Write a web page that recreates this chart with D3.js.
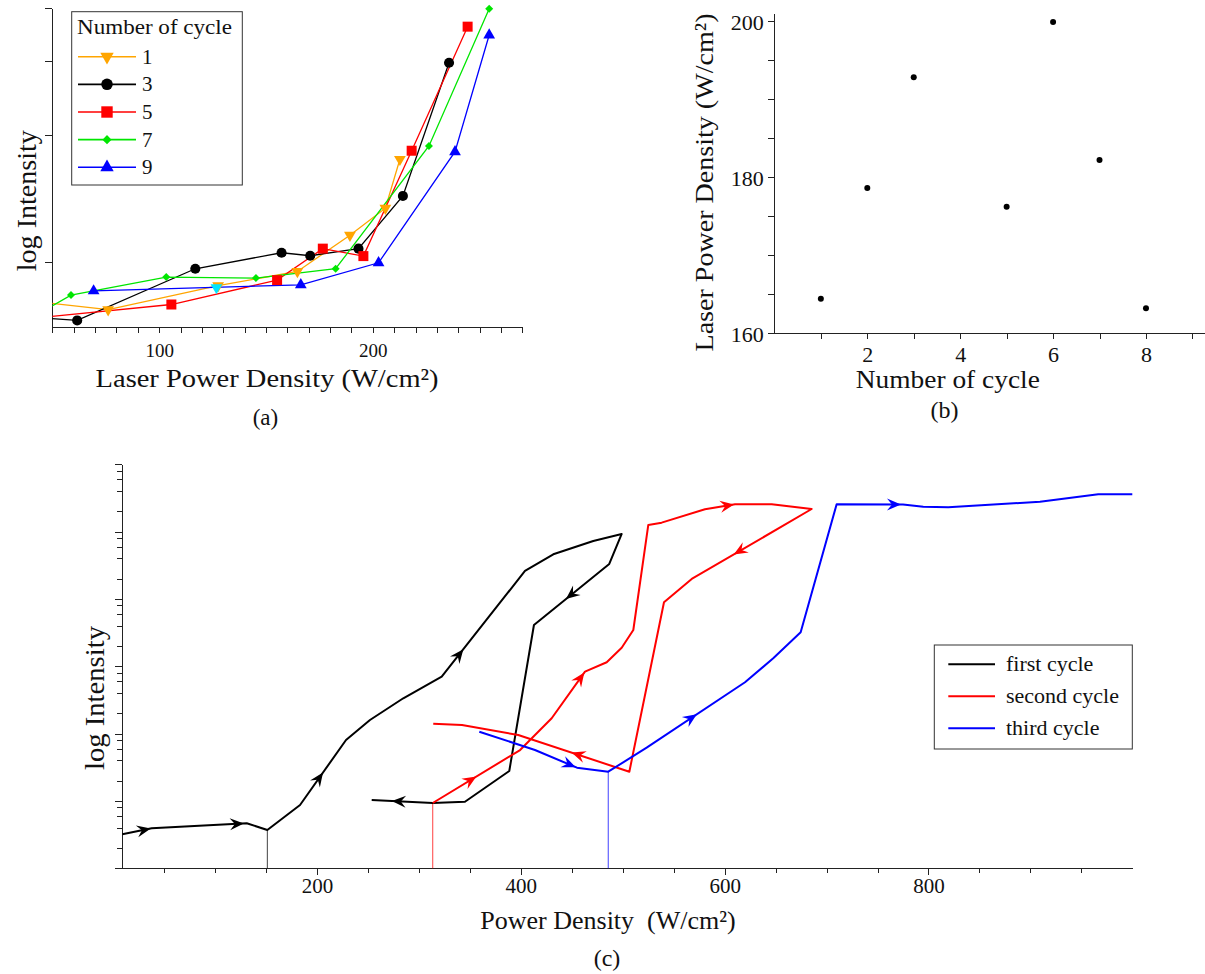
<!DOCTYPE html>
<html>
<head>
<meta charset="utf-8">
<script src="https://cdn.jsdelivr.net/npm/d3@7"></script>
<style>
  body { margin: 0; background: #fff; }
  svg text { font-family: "Liberation Serif", "Times New Roman", serif; fill: #111; }
  .axis path, .axis line { stroke: #222; shape-rendering: crispEdges; }
</style>
</head>
<body>
<div id="chart"></div>
<script>
// ---------- (a) log intensity vs laser power density, per cycle ----------
const cyclesA = ["1", "3", "5", "7", "9"];
const powerA1 = [45, 76.1, 127.6, 164.7, 189.3, 205.9, 212.7];
const intensA1 = [802, 770, 878, 949, 1157, 1341, 1752];
const powerA3 = [45, 61.6, 116.9, 157.3, 170.7, 193.3, 214.1, 235.7];
const intensA3 = [736, 726, 963, 1051, 1034, 1075, 1434, 2971];
const powerA5 = [45, 105.7, 155.2, 176.6, 195.6, 218.2, 244.4];
const intensA5 = [738, 792, 905, 1075, 1032, 1836, 3618];
const powerA7 = [45, 58.7, 103.3, 145.3, 182.6, 226.3, 254.5];
const intensA7 = [760, 834, 920, 915, 963, 1884, 3990];
const powerA9 = [69.3, 166.3, 202.7, 238.5, 254.5];
const intensA9 = [853, 882, 995, 1826, 3457];
// odd cyan marker sitting on the cycle-1 curve
const strayA = [[126.8, 869]];

// ---------- (b) threshold power per cycle ----------
const cycleB = [1, 2, 3, 5, 6, 7, 8];
const powerB = [164.4, 178.6, 192.8, 176.2, 199.9, 182.2, 163.2];

// ---------- (c) hysteresis loops ----------
const cyclesC = ["first cycle", "second cycle", "third cycle"];
const firstP = [9, 37.8, 131.1, 151.3, 183.4, 228.5, 252, 284.7, 322.4, 404.1, 431.9, 471.1, 499, 486.8, 412.9, 388.7, 345.2, 313.6, 253.7];
const firstI = [3.2, 3.93, 4.66, 3.71, 8.71, 80.5, 159.5, 335, 701, 26050, 46100, 72600, 92300, 33100, 4110, 27.9, 9.75, 9.33, 10.3];
const secondP = [313.6, 399.3, 430.3, 463, 484.3, 499, 510.4, 525.1, 538.2, 580.7, 610.2, 646.2, 685.4, 567.7, 540.5, 506.5, 397.5, 342.3, 314.1];
const secondI = [9.33, 57.1, 169, 832, 1148, 1890, 3460, 125600, 135900, 214800, 254800, 254800, 216900, 19810, 8930, 27.2, 95.5, 134, 140.5];
const thirdP = [359.3, 413.9, 455.1, 485.8, 523.5, 620, 647.7, 674.6, 709.9, 775, 794.9, 819.4, 909.4, 966.6, 1000];
const thirdI = [106.9, 57.1, 31.2, 27.2, 61.8, 579, 1315, 3200, 254800, 252300, 234900, 230000, 278600, 358900, 358900];
// arrows: [segment index, position along segment]
const firstArrows = [[0, 0.97], [1, 0.97], [4, 0.5], [8, 0.26], [13, 0.575], [17, 0.67]];
const secondArrows = [[0, 0.5], [2, 0.98], [9, 0.97], [12, 0.65], [15, 0.52]];
const thirdArrows = [[1, 0.97], [4, 0.51], [8, 0.97]];
const dropIdx = [3, 0, 3];

const svg = d3.select("#chart").append("svg")
    .attr("width", 1205).attr("height", 974)
    .style("background", "#fff");

function label(x, y, s, size, len, rot) {
    const t = svg.append("text")
        .attr("transform", rot ? `translate(${x},${y}) rotate(-90)` : `translate(${x},${y})`)
        .attr("text-anchor", "middle")
        .attr("font-size", size)
        .text(s);
    if (len) t.attr("textLength", len).attr("lengthAdjust", "spacingAndGlyphs");
    return t;
}

// ================= panel (a) =================
const xA = d3.scaleLinear().domain([50, 270]).range([52.4, 522.3]);
const yA = d3.scaleLog().domain([700, 4000]).range([327.1, 8.3]);

const axA = svg.append("g").attr("class", "axis")
    .attr("transform", `translate(0,${yA.range()[0]})`)
    .call(d3.axisBottom(xA).tickValues(d3.range(50, 271, 10)).tickSize(6).tickSizeOuter(0)
        .tickFormat(d => d % 100 === 0 ? d : ""));
axA.selectAll("text").attr("y", 30.4).attr("dy", 0).attr("font-size", 19);

svg.append("g").attr("class", "axis")
    .attr("transform", `translate(${xA.range()[0]},0)`)
    .call(d3.axisLeft(yA).tickValues([1000, 2000, 3000, 4000]).tickSize(7).tickSizeOuter(0).tickFormat(""));

svg.append("clipPath").attr("id", "clipA")
    .append("rect").attr("x", 52.4).attr("y", 0).attr("width", 470).attr("height", 327.1);

const colorsA = ["#ffa500", "#000000", "#ff0000", "#00e600", "#0000ff"];
const symA = [d3.symbolTriangle, d3.symbolCircle, d3.symbolSquare, d3.symbolSquare, d3.symbolTriangle];
const sizeA = [60, 80, 100, 32, 60];
const rotA = [180, 0, 0, 45, 0];
const powA = [powerA1, powerA3, powerA5, powerA7, powerA9];
const intA = [intensA1, intensA3, intensA5, intensA7, intensA9];

const lineA = d3.line().x(d => xA(d[0])).y(d => yA(d[1]));
const gA = svg.append("g").attr("clip-path", "url(#clipA)");

cyclesA.forEach((c, i) => {
    const pts = d3.zip(powA[i], intA[i]);
    gA.append("path").datum(pts)
        .attr("d", lineA)
        .attr("fill", "none")
        .attr("stroke", colorsA[i])
        .attr("stroke-width", 1.3);
});
cyclesA.forEach((c, i) => {
    const pts = d3.zip(powA[i], intA[i]);
    gA.selectAll(null).data(pts).enter().append("path")
        .attr("d", d3.symbol().type(symA[i]).size(sizeA[i]))
        .attr("transform", d => `translate(${xA(d[0])},${yA(d[1])}) rotate(${rotA[i]})`)
        .attr("fill", colorsA[i]);
});
gA.selectAll(null).data(strayA).enter().append("path")
    .attr("d", d3.symbol().type(d3.symbolTriangle).size(60))
    .attr("transform", d => `translate(${xA(d[0])},${yA(d[1])}) rotate(180)`)
    .attr("fill", "#00e5ff");

// legend (a)
svg.append("rect").attr("x", 71.7).attr("y", 11.7).attr("width", 170.6).attr("height", 173.3)
    .attr("fill", "#fff").attr("stroke", "#333").attr("stroke-width", 1);
svg.append("text").attr("x", 77).attr("y", 33.5).attr("font-size", 22)
    .attr("textLength", 155).attr("lengthAdjust", "spacingAndGlyphs")
    .text("Number of cycle");
cyclesA.forEach((c, i) => {
    const ly = 56.7 + i * 27.65;
    svg.append("line").attr("x1", 78).attr("x2", 136).attr("y1", ly).attr("y2", ly)
        .attr("stroke", colorsA[i]).attr("stroke-width", 1.6);
    svg.append("path")
        .attr("d", d3.symbol().type(symA[i]).size(sizeA[i] * 1.3))
        .attr("transform", `translate(107,${ly}) rotate(${rotA[i]})`)
        .attr("fill", colorsA[i]);
    svg.append("text").attr("x", 142).attr("y", ly + 7).attr("font-size", 21).text(c);
});

label(267.1, 386.9, "Laser Power Density (W/cm²)", 26, 343);
label(35.5, 200.7, "log Intensity", 27, 141, true);
label(265.4, 425, "(a)", 23);

// ================= panel (b) =================
const xB = d3.scaleLinear().domain([0, 9.26]).range([774.4, 1204.5]);
const yB = d3.scaleLinear().domain([160, 201]).range([333.1, 13.4]);

const axBx = svg.append("g").attr("class", "axis")
    .attr("transform", `translate(0,${yB.range()[0]})`)
    .call(d3.axisBottom(xB).tickValues(d3.range(1, 10)).tickSize(6).tickSizeOuter(0)
        .tickFormat(d => d % 2 === 0 ? d : ""));
axBx.selectAll("text").attr("y", 28.5).attr("dy", 0).attr("font-size", 22);

const axBy = svg.append("g").attr("class", "axis")
    .attr("transform", `translate(${xB.range()[0]},0)`)
    .call(d3.axisLeft(yB).tickValues(d3.range(160, 201, 5)).tickSize(6).tickSizeOuter(0)
        .tickFormat(d => d % 20 === 0 ? d : ""));
axBy.selectAll("text").attr("x", -10.7).attr("dy", "0.36em").attr("font-size", 22);

svg.append("g").selectAll("circle").data(d3.zip(cycleB, powerB)).enter().append("circle")
    .attr("cx", d => xB(d[0]))
    .attr("cy", d => yB(d[1]))
    .attr("r", 3)
    .attr("fill", "#000");

label(947.8, 388.3, "Number of cycle", 26, 184);
label(712.8, 182.5, "Laser Power Density (W/cm²)", 26, 338, true);
label(944.5, 418, "(b)", 24);

// ================= panel (c) =================
const xC = d3.scaleLinear().domain([9, 1000]).range([122.3, 1132.3]);
const yC = d3.scaleLog().domain([1, 1e6]).range([868.3, 464.3]);

const minorC = [];
for (let e = 0; e < 6; e++) [2, 4, 6, 8].forEach(m => minorC.push(m * Math.pow(10, e)));
const decC = d3.range(0, 7).map(e => Math.pow(10, e));

svg.append("g").attr("class", "axis")
    .attr("transform", `translate(0,${yC.range()[0]})`)
    .call(d3.axisBottom(xC).tickValues(d3.range(50, 1001, 50).filter(d => d % 200 !== 0))
        .tickSize(5).tickSizeOuter(0).tickFormat(""));
const axCx = svg.append("g").attr("class", "axis")
    .attr("transform", `translate(0,${yC.range()[0]})`)
    .call(d3.axisBottom(xC).tickValues([200, 400, 600, 800]).tickSize(7).tickSizeOuter(0));
axCx.selectAll("text").attr("y", 25).attr("dy", 0).attr("font-size", 21);

svg.append("g").attr("class", "axis")
    .attr("transform", `translate(${xC.range()[0]},0)`)
    .call(d3.axisLeft(yC).tickValues(minorC).tickSize(5).tickSizeOuter(0).tickFormat(""));
svg.append("g").attr("class", "axis")
    .attr("transform", `translate(${xC.range()[0]},0)`)
    .call(d3.axisLeft(yC).tickValues(decC).tickSize(7).tickSizeOuter(0).tickFormat(""));

const colorsC = ["#000000", "#ff0000", "#0000ff"];
const dataC = [d3.zip(firstP, firstI), d3.zip(secondP, secondI), d3.zip(thirdP, thirdI)];
const arrowsC = [firstArrows, secondArrows, thirdArrows];
const lineC = d3.line().x(d => xC(d[0])).y(d => yC(d[1]));

// drop lines to the axis
dataC.forEach((pts, i) => {
    const p = pts[dropIdx[i]];
    svg.append("line")
        .attr("x1", xC(p[0])).attr("x2", xC(p[0]))
        .attr("y1", yC(p[1])).attr("y2", yC.range()[0])
        .attr("stroke", colorsC[i]).attr("stroke-opacity", 0.75).attr("stroke-width", 1);
});

dataC.forEach((pts, i) => {
    svg.append("path").datum(pts)
        .attr("d", lineC)
        .attr("fill", "none")
        .attr("stroke", colorsC[i])
        .attr("stroke-width", 2)
        .attr("stroke-linejoin", "round");
    arrowsC[i].forEach(([k, t]) => {
        const x0 = xC(pts[k][0]), y0 = yC(pts[k][1]);
        const x1 = xC(pts[k + 1][0]), y1 = yC(pts[k + 1][1]);
        const ang = Math.atan2(y1 - y0, x1 - x0) * 180 / Math.PI;
        svg.append("path")
            .attr("d", "M0,0L-14,-6L-9,0L-14,6Z")
            .attr("transform", `translate(${x0 + (x1 - x0) * t},${y0 + (y1 - y0) * t}) rotate(${ang})`)
            .attr("fill", colorsC[i]);
    });
});

// legend (c)
svg.append("rect").attr("x", 934.3).attr("y", 645).attr("width", 198).attr("height", 104)
    .attr("fill", "#fff").attr("stroke", "#333").attr("stroke-width", 1);
cyclesC.forEach((c, i) => {
    const ly = 664.3 + i * 32;
    svg.append("line").attr("x1", 948.3).attr("x2", 995).attr("y1", ly).attr("y2", ly)
        .attr("stroke", colorsC[i]).attr("stroke-width", 2);
    svg.append("text").attr("x", 1006).attr("y", ly + 7).attr("font-size", 22).text(c);
});

label(608, 929, "Power Density  (W/cm²)", 26).style("white-space", "pre");
label(104, 698, "log Intensity", 27, 144, true);
label(607, 966, "(c)", 24);
</script>
</body>
</html>
